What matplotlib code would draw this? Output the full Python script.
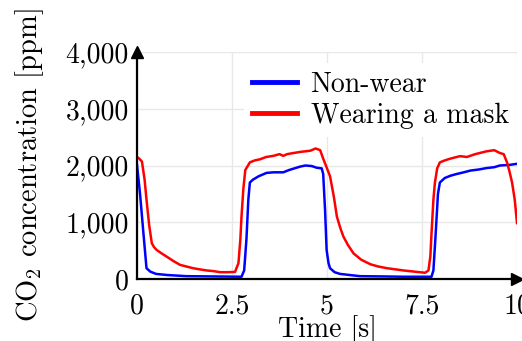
import matplotlib
matplotlib.use("Agg")
import matplotlib.pyplot as plt
from matplotlib.ticker import FuncFormatter

plt.rcParams['font.family'] = 'serif'
plt.rcParams['font.serif'] = ['cmr10']
plt.rcParams['mathtext.fontset'] = 'cm'
plt.rcParams['axes.unicode_minus'] = False

# time [s] and CO2 [ppm]
t_blue = [0.0, 0.08, 0.17, 0.25, 0.35, 0.5, 0.8, 1.3, 2.0, 2.75, 2.82, 2.88, 2.93, 2.97,
          3.05, 3.2, 3.41, 3.6, 3.85, 4.0, 4.29, 4.43, 4.6, 4.73, 4.86, 4.9, 4.95, 4.99,
          5.04, 5.08, 5.2, 5.34, 5.6, 5.87, 6.5, 7.0, 7.75, 7.8, 7.86, 7.92, 7.97, 8.1,
          8.25, 8.41, 8.6, 8.77, 9.0, 9.2, 9.4, 9.55, 9.8, 10.0]
co2_blue = [2010, 1500, 800, 190, 130, 90, 70, 50, 45, 40, 150, 700, 1400, 1700,
            1750, 1810, 1870, 1880, 1880, 1920, 1980, 2000, 1990, 1960, 1950, 1850, 1200, 510,
            280, 190, 120, 90, 70, 50, 45, 40, 40, 150, 800, 1500, 1700, 1780,
            1820, 1850, 1880, 1910, 1930, 1955, 1970, 2000, 2010, 2030]

t_red = [0.0, 0.06, 0.13, 0.2, 0.25, 0.32, 0.39, 0.45, 0.52, 0.65, 0.78, 0.95, 1.13,
         1.3, 1.48, 1.65, 1.84, 2.0, 2.19, 2.4, 2.58, 2.67, 2.72, 2.75, 2.8, 2.85, 2.97,
         3.1, 3.24, 3.4, 3.59, 3.75, 3.85, 3.95, 4.12, 4.3, 4.56, 4.7, 4.82, 4.9, 5.0,
         5.08, 5.18, 5.26, 5.35, 5.43, 5.55, 5.7, 5.9, 6.14, 6.35, 6.58, 6.8, 7.02, 7.3,
         7.58, 7.67, 7.72, 7.75, 7.8, 7.84, 7.9, 7.97, 8.1, 8.24, 8.5, 8.68, 8.9, 9.2,
         9.4, 9.55, 9.65, 9.74, 9.8, 9.87, 9.94, 10.0]
co2_red = [2150, 2120, 2070, 1750, 1400, 950, 630, 560, 510, 450, 395, 320, 250,
           220, 190, 170, 150, 140, 120, 120, 125, 280, 700, 1100, 1600, 1920, 2055,
           2090, 2110, 2150, 2170, 2200, 2170, 2200, 2220, 2240, 2260, 2300, 2270, 2120, 1950,
           1810, 1450, 1100, 900, 750, 600, 450, 340, 260, 220, 190, 170, 150, 130,
           110, 150, 400, 800, 1400, 1700, 1950, 2055, 2090, 2120, 2165, 2150, 2200, 2250,
           2270, 2220, 2200, 2050, 1900, 1700, 1400, 985]

fig = plt.figure(figsize=(5.22, 3.41), dpi=100)
ax = fig.add_axes([137 / 522, 62 / 341, 380 / 522, 227 / 341])

ax.plot(t_blue, co2_blue, color='#0000ff', lw=1.8, label='Non-wear', zorder=3)
ax.plot(t_red, co2_red, color='#ff0000', lw=1.8, label='Wearing a mask', zorder=3)

ax.set_xlim(0, 10)
ax.set_ylim(0, 4000)
ax.set_xticks([0, 2.5, 5, 7.5, 10])
ax.set_yticks([0, 1000, 2000, 3000, 4000])
ax.xaxis.set_major_formatter(FuncFormatter(lambda v, p: f"{v:g}"))
ax.yaxis.set_major_formatter(FuncFormatter(lambda v, p: f"{v:,.0f}"))
ax.tick_params(length=0, labelsize=20)
ax.tick_params(axis='y', pad=6)
ax.tick_params(axis='x', pad=10)
ax.grid(True, color='#e8e8e8', lw=1)
ax.set_axisbelow(True)

for s in ['top', 'right']:
    ax.spines[s].set_visible(False)
for s in ['left', 'bottom']:
    ax.spines[s].set_linewidth(1.6)
    ax.spines[s].set_zorder(4)
ax.plot(1, 0, '>k', ms=8, transform=ax.get_yaxis_transform(), clip_on=False, zorder=5)
ax.plot(0, 1, '^k', ms=8, transform=ax.get_xaxis_transform(), clip_on=False, zorder=5)

ax.set_xlabel('Time [s]', fontsize=20, labelpad=-3)
ax.set_ylabel('CO$_2$ concentration [ppm]', fontsize=20.5, labelpad=14)

leg = ax.legend(loc='upper right', bbox_to_anchor=(1.0, 0.95), fontsize=20,
                frameon=True, framealpha=1, edgecolor='none', handlelength=1.6,
                handletextpad=0.5, borderaxespad=0.0, labelspacing=0.15,
                borderpad=0.3, fancybox=False)
for h in leg.get_lines():
    h.set_linewidth(3.5)

fig.savefig('out.png', dpi=100)
